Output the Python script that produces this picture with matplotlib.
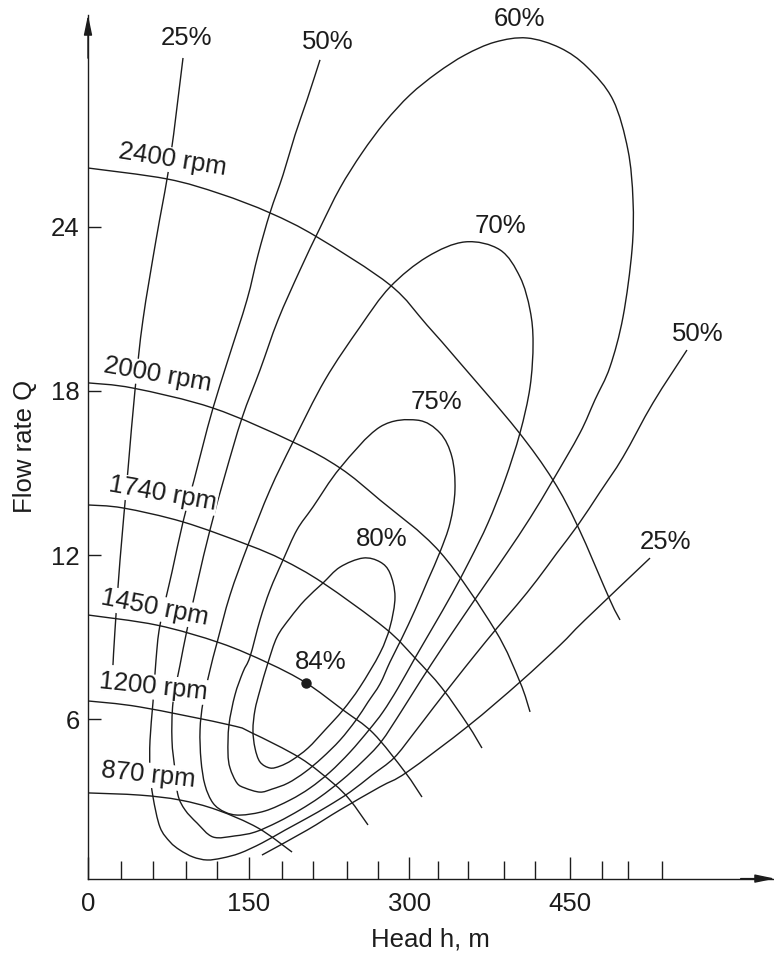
import matplotlib
matplotlib.use('Agg')
import matplotlib.pyplot as plt
from matplotlib.path import Path
from matplotlib.patches import PathPatch

plt.rcParams['font.family'] = ['Liberation Sans', 'DejaVu Sans']
plt.rcParams['font.size'] = 18.5

# 转速曲线 (head h, flow Q)
speeds = ['2400 rpm', '2000 rpm', '1740 rpm', '1450 rpm', '1200 rpm', '870 rpm']
rpm_h = [
    [0, 73.8, 123.2, 169.9, 213.8, 281.9, 316.5, 347.3, 400.5, 434.1, 457.5, 487.3, 496.7],
    [0, 42.0, 116.7, 191.4, 235.3, 272.6, 328.6, 380.0, 403.3, 412.7],
    [0, 32.7, 88.7, 149.4, 182.1, 219.4, 277.3, 305.3, 330.5, 354.8, 367.8],
    [0, 64.4, 123.2, 168.0, 203.5, 238.1, 266.1, 296.0, 311.8],
    [0, 48.5, 132.6, 153.1, 197.9, 228.7, 244.6, 261.4],
    [0, 48.5, 85.9, 120.4, 158.7, 190.5],
]
rpm_q = [
    [26.14, 25.74, 25.2, 24.50, 23.62, 21.87, 20.40, 19.02, 16.57, 14.74, 13.03, 10.36, 9.63],
    [18.29, 18.10, 17.37, 16.13, 15.18, 14.01, 12.11, 9.26, 7.36, 6.27],
    [13.83, 13.72, 13.21, 12.37, 11.82, 10.98, 9.33, 8.24, 7.14, 5.79, 4.95],
    [9.81, 9.44, 8.79, 8.06, 7.33, 6.34, 5.50, 4.07, 3.16],
    [6.67, 6.45, 5.79, 5.50, 4.59, 3.67, 3.05, 2.14],
    [3.31, 3.23, 3.05, 2.69, 2.03, 1.15],
]
rpm_label_pos = [(79.4, 26.43), (65.4, 18.58), (70.0, 14.23), (62.6, 10.07), (60.7, 7.18), (56.0, 3.96)]
rpm_label_rot = [-9, -10, -10, -11, -6, -6]

# 效率曲线
eff25_left_h = [88.7, 76.6, 63.5, 51.3, 43.9, 37.3, 29.9, 25.2, 23.3]
eff25_left_q = [30.16, 26.43, 23.51, 20.59, 18.03, 15.11, 11.82, 9.26, 7.98]
eff25_right_h = [162.4, 204.5, 235.3, 272.6, 297.8, 354.8, 403.3, 440.7, 464.0, 524.7]
eff25_right_q = [1.04, 1.95, 2.69, 3.53, 4.07, 5.75, 7.36, 8.71, 9.63, 11.89]

eff50_h = [216.6, 204.5, 193.3, 182.1, 169.9, 158.7, 148.4, 130.7, 116.7, 107.4, 99.0, 88.7,
           78.4, 67.2, 63.5, 60.7, 57.9, 57.9, 60.7, 67.2, 76.6, 85.9, 98.0, 111.1, 125.1,
           141.9, 162.4, 183.9, 204.5, 224.1, 244.6, 265.1, 285.7, 304.4, 323.0, 342.6,
           361.3, 381.8, 400.5, 419.2, 437.9, 457.5, 478.0, 499.5, 527.5, 559.2]
eff50_q = [30.09, 28.63, 27.35, 25.89, 24.50, 22.96, 21.32, 19.13, 17.37, 16.02, 14.74, 13.21,
           11.38, 9.44, 8.17, 6.63, 5.24, 4.15, 3.16, 2.06, 1.52, 1.22, 0.97, 0.86, 0.93,
           1.11, 1.48, 1.95, 2.39, 2.83, 3.34, 3.96, 4.59, 5.50, 6.45, 7.43,
           8.35, 9.33, 10.18, 11.09, 12.08, 13.10, 14.30, 15.58, 17.56, 19.49]

eff60_h = [409.8, 380.0, 352.0, 325.8, 300.6, 277.3, 255.8, 235.3, 216.6, 197.9,
           177.4, 160.6, 143.8, 127.9, 113.9, 102.7, 92.4, 85.9, 79.4, 78.4, 81.2, 84.0, 90.6,
           101.8, 116.7, 137.2, 155.9, 177.4, 197.9, 216.6, 237.1, 255.8, 273.5, 292.2, 310.9,
           330.5, 350.1, 370.6, 391.2, 412.7, 434.1, 459.3, 473.3, 487.3, 499.5, 507.9, 508.8,
           504.1, 490.1, 465.9, 440.7, 409.8]
eff60_q = [30.89, 30.74, 30.27, 29.61, 28.81, 27.82, 26.69, 25.41, 23.95, 22.41,
           20.59, 18.76, 17.01, 14.92, 12.92, 11.09, 9.26, 7.98, 6.63, 5.24, 4.15, 3.23, 2.69,
           2.21, 1.70, 1.74, 1.88, 2.25, 2.69, 3.16, 3.78, 4.44, 5.17, 6.27, 7.43,
           8.60, 9.74, 10.91, 12.08, 13.35, 14.74, 16.46, 17.67, 18.87, 20.70, 23.15, 24.97,
           26.80, 28.63, 29.83, 30.53, 30.89]

eff70_h = [352.0, 316.5, 281.9, 253.9, 221.3, 191.4, 169.9, 149.4, 132.6, 120.4, 113.9, 107.4,
           104.6, 105.5, 109.2, 116.7, 127.9, 141.9, 165.2, 188.6, 207.3, 225.9, 244.6, 262.3,
           275.4, 289.4, 305.3, 322.1, 339.8, 356.6, 373.4, 389.3, 403.3, 412.7, 415.5, 412.7,
           403.3, 384.6, 352.0]
eff70_q = [23.44, 22.89, 21.79, 20.33, 18.40, 16.13, 14.38, 12.37, 10.54, 8.79, 7.80, 6.63,
           5.61, 4.51, 3.60, 2.94, 2.61, 2.50, 2.65, 3.05, 3.49, 4.07, 4.80, 5.61,
           6.27, 7.14, 8.24, 9.37, 10.58, 11.82, 13.17, 14.74, 16.46, 18.14, 19.75, 20.95,
           22.16, 23.15, 23.44]

eff75_h = [307.2, 328.6, 339.8, 342.6, 338.0, 328.6, 317.4, 305.3, 293.1, 281.9, 272.6, 261.4,
           250.2, 235.3, 218.5, 202.6, 186.7, 171.8, 160.6, 146.6, 139.1, 132.6, 130.7, 131.6,
           137.2, 144.7, 151.2, 160.6, 169.9, 182.1, 195.1, 210.1, 235.3, 272.6, 307.2]
eff75_q = [16.93, 16.46, 15.58, 14.38, 13.17, 12.11, 11.09, 9.99, 8.97, 8.09, 7.29, 6.63,
           5.97, 5.24, 4.59, 4.07, 3.67, 3.45, 3.34, 3.49, 3.67, 4.22, 4.77, 5.79,
           6.89, 7.73, 8.28, 9.63, 10.72, 11.82, 12.92, 13.76, 15.18, 16.68, 16.93]

eff80_h = [256.7, 272.6, 281.9, 286.6, 281.9, 272.6, 253.9, 238.1, 221.3, 205.4, 190.5, 179.3,
           169.9, 160.6, 155.9, 154.0, 155.9, 160.6, 168.0, 176.5, 188.6, 202.6, 219.4, 235.3,
           256.7]
eff80_q = [11.89, 11.75, 11.34, 10.47, 9.37, 8.42, 7.18, 6.34, 5.61, 4.95, 4.51, 4.29,
           4.22, 4.44, 4.95, 5.61, 6.34, 7.07, 8.06, 9.01, 9.70, 10.36, 10.98, 11.56,
           11.89]

best_point = (203.5, 7.33)

eff_labels = ['25%', '50%', '60%', '70%', '75%', '80%', '84%', '50%', '25%']
eff_label_pos = [(92.4, 30.89), (224.1, 30.75), (402.4, 31.59), (384.6, 24.02), (324.9, 17.59),
                 (274.5, 12.59), (217.5, 8.09), (569.5, 20.08), (539.6, 12.49)]

x_ticks = [0, 150, 300, 450]
x_minor = [30.5, 60.4, 91.5, 120.4, 180.8, 210.1, 241.5, 270.7, 326.8, 354.8, 388.4, 417.3,
           479.6, 504.1, 535.6]
y_ticks = [6, 12, 18, 24]

ink = '#1c1c1c'


def smooth_path(hs, qs):
    """用贝塞尔段把读出的点平滑连起来（曲线经过每个点）"""
    pts = list(zip(hs, qs))
    closed = pts[0] == pts[-1]
    n = len(pts)
    verts = [pts[0]]
    codes = [Path.MOVETO]
    for i in range(n - 1):
        if closed:
            p0 = pts[i - 1] if i > 0 else pts[-2]
            p3 = pts[i + 2] if i + 2 < n else pts[1]
        else:
            p0 = pts[i - 1] if i > 0 else pts[i]
            p3 = pts[i + 2] if i + 2 < n else pts[i + 1]
        p1, p2 = pts[i], pts[i + 1]
        c1 = (p1[0] + (p2[0] - p0[0]) / 6, p1[1] + (p2[1] - p0[1]) / 6)
        c2 = (p2[0] - (p3[0] - p1[0]) / 6, p2[1] - (p3[1] - p1[1]) / 6)
        verts += [c1, c2, p2]
        codes += [Path.CURVE4] * 3
    return Path(verts, codes)


fig = plt.figure(figsize=(7.74, 9.55), dpi=100)
ax = fig.add_axes([0.1137, 0.0800, 0.8876, 0.9043])
ax.set_xlim(0, 641.4)
ax.set_ylim(0.18, 31.73)

lw = 1.0
curves = list(zip(rpm_h, rpm_q)) + [
    (eff25_left_h, eff25_left_q), (eff25_right_h, eff25_right_q), (eff50_h, eff50_q),
    (eff60_h, eff60_q), (eff70_h, eff70_q), (eff75_h, eff75_q), (eff80_h, eff80_q)]
for hs, qs in curves:
    ax.add_patch(PathPatch(smooth_path(hs, qs), fill=False, edgecolor=ink, lw=lw, zorder=2,
                           joinstyle='round', capstyle='butt'))

ax.plot(*best_point, 'o', color=ink, ms=6.5, zorder=4)

for txt, (x, y), rot in zip(speeds, rpm_label_pos, rpm_label_rot):
    ax.text(x, y, txt, rotation=rot, rotation_mode='anchor', ha='center', va='center',
            color=ink, zorder=3,
            bbox=dict(facecolor='white', edgecolor='none', pad=0.3))
for txt, (x, y) in zip(eff_labels, eff_label_pos):
    ax.text(x, y, txt, ha='center', va='center', color=ink, zorder=3)

# 坐标轴
for s in ['top', 'right']:
    ax.spines[s].set_visible(False)
for s in ['left', 'bottom']:
    ax.spines[s].set_color(ink)
    ax.spines[s].set_linewidth(1.0)

ax.set_xticks(x_ticks)
ax.set_xticklabels([str(v) for v in x_ticks])
ax.set_xticks(x_minor, minor=True)
ax.set_yticks(y_ticks)
ax.set_yticklabels([str(v) for v in y_ticks])
ax.tick_params(axis='x', which='major', direction='in', length=16, width=1.0, color=ink,
               labelcolor=ink, pad=10)
ax.tick_params(axis='x', which='minor', direction='in', length=13, width=1.0, color=ink)
ax.tick_params(axis='y', which='major', direction='in', length=9.5, width=1.0, color=ink,
               labelcolor=ink, pad=6)

ax.annotate('', xy=(0, 1), xycoords='axes fraction', xytext=(0, 0.95),
            arrowprops=dict(arrowstyle='-|>,head_length=1.2,head_width=0.25',
                            color=ink, lw=1.0, mutation_scale=10, shrinkA=0, shrinkB=0))
ax.annotate('', xy=(1, 0), xycoords='axes fraction', xytext=(0.95, 0),
            arrowprops=dict(arrowstyle='-|>,head_length=1.2,head_width=0.25',
                            color=ink, lw=1.0, mutation_scale=10, shrinkA=0, shrinkB=0))

ax.set_xlabel('Head h, m', color=ink)
ax.xaxis.set_label_coords(0.498, -0.057)
ax.set_ylabel('Flow rate Q', color=ink)
ax.yaxis.set_label_coords(-0.074, 0.50)

fig.savefig('out.png', dpi=100)
